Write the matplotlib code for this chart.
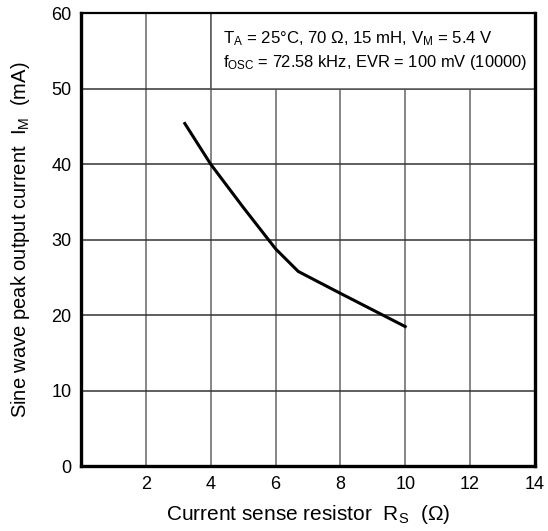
import matplotlib
matplotlib.use("Agg")
import matplotlib.pyplot as plt
from matplotlib.patches import Rectangle

plt.rcParams['font.family'] = ['Liberation Sans', 'DejaVu Sans']
plt.rcParams['mathtext.fontset'] = 'custom'
plt.rcParams['mathtext.rm'] = 'Liberation Sans'
plt.rcParams['mathtext.it'] = 'Liberation Sans'

# Curve
rs_ohm = [3.2, 4.0, 5.0, 6.0, 6.7, 8.0, 10.0]
im_ma = [45.4, 40.0, 34.3, 28.8, 25.8, 22.9, 18.5]

x_ticks = [2, 4, 6, 8, 10, 12, 14]
y_ticks = [0, 10, 20, 30, 40, 50, 60]

line1 = r"T$_\mathregular{A}$ = 25°C, 70 Ω, 15 mH, V$_\mathregular{M}$ = 5.4 V"
line2 = r"f$_\mathregular{OSC}$ = 72.58 kHz, EVR = 100 mV (10000)"

fig = plt.figure(figsize=(5.48, 5.31), dpi=100)
ax = fig.add_axes([0.148, 0.122, 0.828, 0.853])

ax.set_xlim(0, 14)
ax.set_ylim(0, 60)
ax.set_xticks(x_ticks)
ax.set_yticks(y_ticks)
ax.tick_params(length=0, labelsize=13)
ax.tick_params(axis='x', pad=7)
ax.tick_params(axis='y', pad=7)

for x in x_ticks[:-1]:
    ax.axvline(x, color='#666666', lw=1.1, zorder=1)
for y in y_ticks[1:-1]:
    ax.axhline(y, color='#333333', lw=1.1, zorder=1)

# white box behind the conditions text
ax.add_patch(Rectangle((4, 50), 10, 10, facecolor='white', edgecolor='#555555',
                       lw=1.1, zorder=2))
ax.text(4.38, 56.7, line1, fontsize=12.1, va='center', zorder=3)
ax.text(4.38, 53.5, line2, fontsize=11.9, va='center', zorder=3)

ax.plot(rs_ohm, im_ma, color='black', lw=2.2, zorder=4)

for side in ['left', 'bottom', 'right']:
    ax.spines[side].set_linewidth(2.4)
ax.spines['top'].set_linewidth(1.6)
for s in ax.spines.values():
    s.set_zorder(5)

ax.set_xlabel(r"Current sense resistor  R$_\mathregular{S}$  (Ω)", fontsize=15, labelpad=7)
ax.set_ylabel(r"Sine wave peak output current  I$_\mathregular{M}$  (mA)", fontsize=14.5, labelpad=14)

fig.savefig("out.png", dpi=100)
